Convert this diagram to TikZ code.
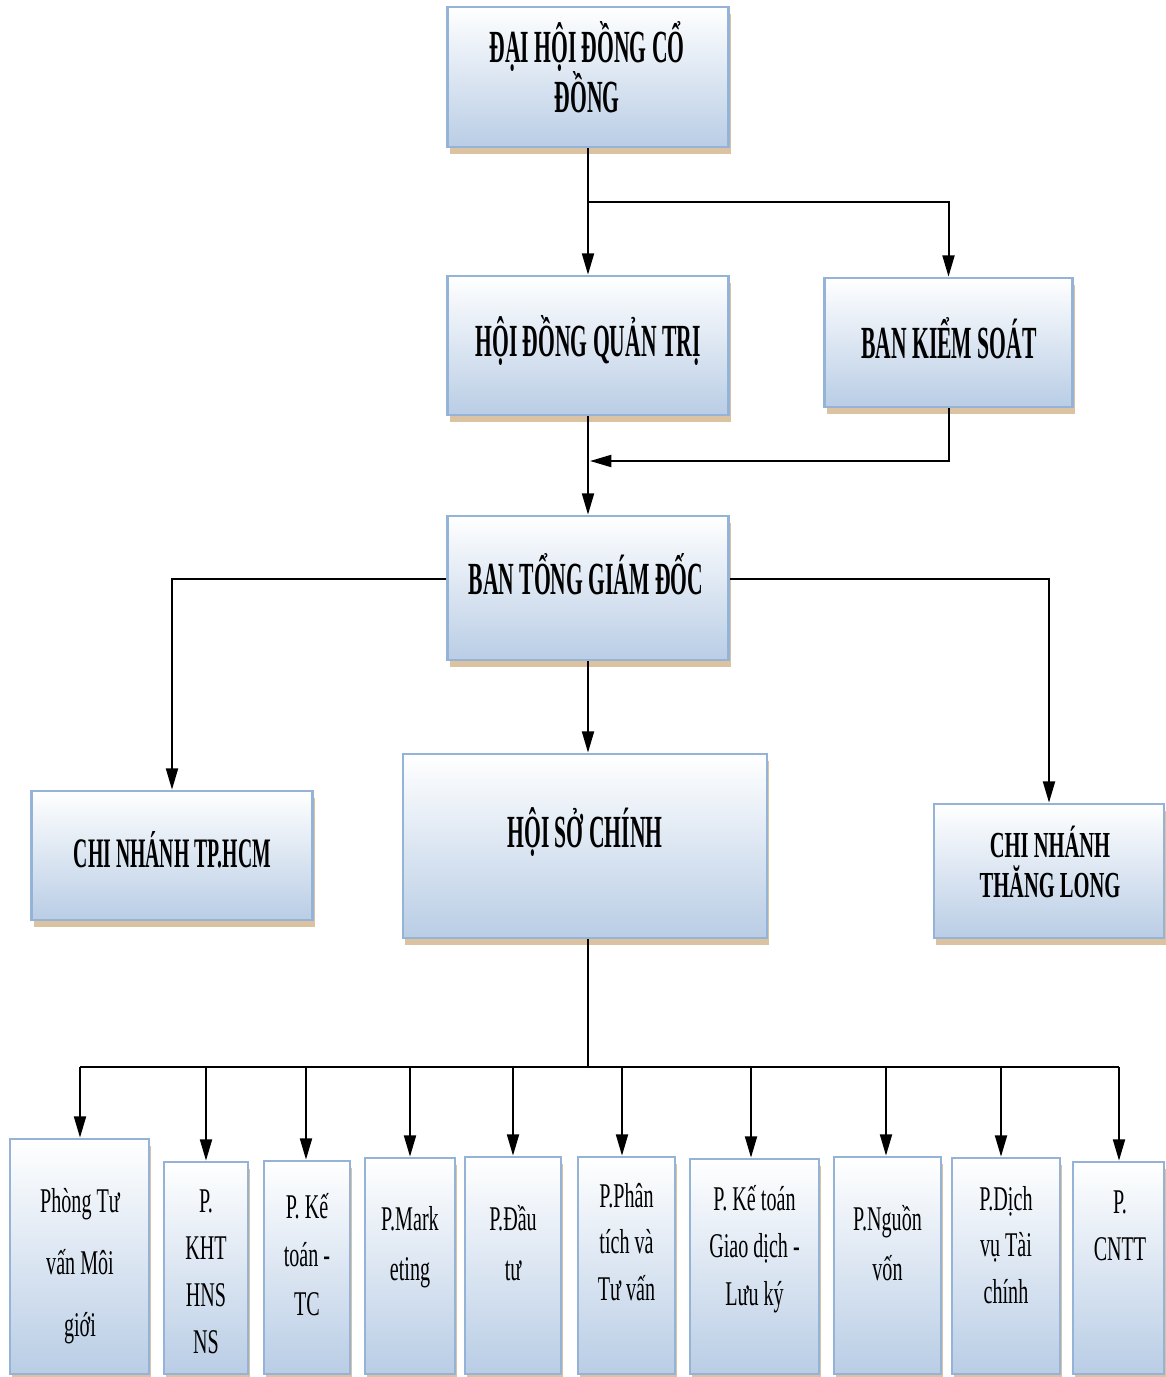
\documentclass[tikz,border=0pt]{standalone}
\usepackage{fontspec}
\setmainfont{Liberation Serif}
\newfontfamily\hdfont[FakeStretch=0.47]{Liberation Serif}
\newfontfamily\hdfontw[FakeStretch=0.56]{Liberation Serif}
\newfontfamily\bdfont[FakeStretch=0.58]{Liberation Serif}
\usetikzlibrary{arrows.meta,shadows,calc}
\definecolor{boxfill}{HTML}{B9CDE5}
\definecolor{boxedge}{HTML}{95B3D7}
\definecolor{shadowtan}{HTML}{DBC3A1}
\newcommand\tstrut[1]{\rule{0pt}{#1}}
\begin{document}
\begin{tikzpicture}[x=0.75pt,y=-0.75pt,
  orgbox/.style={rectangle, draw=boxedge, line width=2pt, top color=white, bottom color=boxfill, inner sep=0pt,
    general shadow={fill=shadowtan, shadow xshift=1.5pt, shadow yshift=-5pt}},
  sz/.style 2 args={minimum width=#1*0.75pt, minimum height=#2*0.75pt},
  hd/.style={anchor=north, inner sep=0pt, align=center, font=\hdfont\bfseries\fontsize{34.5}{37.5}\selectfont},
  hdsmall/.style={anchor=north, inner sep=0pt, align=center, font=\hdfont\bfseries\fontsize{31.5}{36}\selectfont},
  hdwide/.style={anchor=north, inner sep=0pt, align=center, font=\hdfontw\bfseries\fontsize{27.5}{30}\selectfont},
  bd/.style={anchor=north, inner sep=0pt, align=center, font=\bdfont\fontsize{26}{#1}\selectfont},
  bd/.default=35.25,
  ln/.style={line width=1.5pt, black},
  arr/.style={line width=1.5pt, black, -{Triangle[length=16pt,width=9pt]}}
]
\useasboundingbox (0,0) rectangle (1166,1377);

% upper boxes
\node[orgbox, sz={281}{140}] (A) at (588,77) {};
\node[orgbox, sz={281}{139}] (Q) at (588,345.5) {};
\node[orgbox, sz={248}{129}] (K) at (948.5,342.5) {};
\node[orgbox, sz={281}{144}] (T) at (588,588) {};
\node[orgbox, sz={281}{129}] (C) at (172,855.5) {};
\node[orgbox, sz={364}{184}] (H) at (585,846) {};
\node[orgbox, sz={230}{134}] (L) at (1049,871) {};

% bottom boxes
\node[orgbox, sz={139}{235}] (b1) at (79.5,1256.5) {};
\node[orgbox, sz={84}{212}] (b2) at (206,1268) {};
\node[orgbox, sz={86}{213}] (b3) at (307,1267.5) {};
\node[orgbox, sz={90}{216}] (b4) at (410,1266) {};
\node[orgbox, sz={96}{217}] (b5) at (513,1265.5) {};
\node[orgbox, sz={97}{217}] (b6) at (626.5,1265.5) {};
\node[orgbox, sz={129}{215}] (b7) at (754.5,1266.5) {};
\node[orgbox, sz={107}{217}] (b8) at (887.5,1265.5) {};
\node[orgbox, sz={108}{216}] (b9) at (1006,1266) {};
\node[orgbox, sz={91}{212}] (b10) at (1118.5,1268) {};

% labels
\node[hd] (lA) at (587,15) {\tstrut{35.25pt}ĐẠI HỘI ĐỒNG CỔ\\ĐỒNG};
\node[hd] (lQ) at (588,309) {\tstrut{35.25pt}HỘI ĐỒNG QUẢN TRỊ};
\node[hd] (lK) at (949,311) {\tstrut{35.25pt}BAN KIỂM SOÁT};
\node[hd] (lT) at (586,547) {\tstrut{35.25pt}BAN TỔNG GIÁM ĐỐC};
\node[hdsmall] (lC) at (172.5,823) {\tstrut{33pt}CHI NHÁNH TP.HCM};
\node[hd] (lH) at (585,800) {\tstrut{35.25pt}HỘI SỞ CHÍNH};
\node[hdwide] (lL) at (1050,818) {\tstrut{29.25pt}CHI NHÁNH\\THĂNG LONG};

\node[bd=46.5] (l1) at (80,1174) {\tstrut{28.5pt}Phòng Tư\\vấn Môi\\giới};
\node[bd=35.25] (l2) at (206,1174) {\tstrut{28.5pt}P.\\KHT\\HNS\\NS};
\node[bd=36.5] (l3) at (307,1180) {\tstrut{28.5pt}P. Kế\\toán -\\TC};
\node[bd=37.5] (l4) at (410,1192) {\tstrut{28.5pt}P.Mark\\eting};
\node[bd=37.5] (l5) at (513,1192) {\tstrut{28.5pt}P.Đầu\\tư};
\node[bd=35] (l6) at (626.5,1169) {\tstrut{28.5pt}P.Phân\\tích và\\Tư vấn};
\node[bd=35.6] (l7) at (754.5,1172) {\tstrut{28.5pt}P. Kế toán\\Giao dịch -\\Lưu ký};
\node[bd=37.5] (l8) at (887.5,1192) {\tstrut{28.5pt}P.Nguồn\\vốn};
\node[bd=35] (l9) at (1006,1172) {\tstrut{28.5pt}P.Dịch\\vụ Tài\\chính};
\node[bd=35.25] (l10) at (1120,1175) {\tstrut{28.5pt}P.\\CNTT};

% connectors
\coordinate (s1) at (588,202);
\draw[arr] (A.south) -- (Q.north);
\draw[arr] (s1) -| (K.north);
\coordinate (m) at (590,461);
\draw[arr] (K.south) |- (m);
\draw[arr] (Q.south) -- (T.north);
\draw[arr] ([yshift=6.75pt]T.west) -| (C.north);
\draw[arr] ([yshift=6.75pt]T.east) -| (L.north);
\draw[arr] (T.south) -- (T.south |- H.north);
\coordinate (bus) at (588,1067);
\draw[ln] (T.south |- H.south) -- (bus);

\coordinate (d1) at (80,1067);
\coordinate (d2) at (206,1067);
\coordinate (d3) at (306,1067);
\coordinate (d4) at (410,1067);
\coordinate (d5) at (513,1067);
\coordinate (d6) at (622,1067);
\coordinate (d7) at (751,1067);
\coordinate (d8) at (886,1067);
\coordinate (d9) at (1001,1067);
\coordinate (d10) at (1119,1067);
\draw[ln] (d1) -- (d10);
\draw[arr] (d1) -- (d1 |- b1.north);
\draw[arr] (d2) -- (d2 |- b2.north);
\draw[arr] (d3) -- (d3 |- b3.north);
\draw[arr] (d4) -- (d4 |- b4.north);
\draw[arr] (d5) -- (d5 |- b5.north);
\draw[arr] (d6) -- (d6 |- b6.north);
\draw[arr] (d7) -- (d7 |- b7.north);
\draw[arr] (d8) -- (d8 |- b8.north);
\draw[arr] (d9) -- (d9 |- b9.north);
\draw[arr] (d10) -- (d10 |- b10.north);
\end{tikzpicture}
\end{document}
